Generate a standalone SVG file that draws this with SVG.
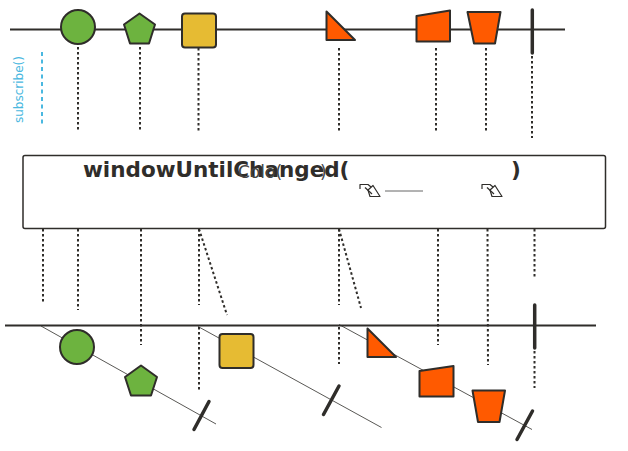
<svg xmlns="http://www.w3.org/2000/svg" width="628" height="451" viewBox="0 0 628 451">
<style>
.tl{stroke:#2f2d2a;stroke-width:2;fill:none}
.dot{stroke:#2f2d2a;stroke-width:2;stroke-dasharray:2.5 2.5;fill:none}
.win{stroke:#2f2d2a;stroke-width:0.8;fill:none}
.end{stroke:#2f2d2a;stroke-width:3.5;stroke-linecap:round;fill:none}
.g{fill:#6db33f;stroke:#2f2d2a;stroke-width:2;stroke-linejoin:round}
.y{fill:#e6bb33;stroke:#2f2d2a;stroke-width:2;stroke-linejoin:round}
.o{fill:#ff5a00;stroke:#2f2d2a;stroke-width:2;stroke-linejoin:round}
.ic{fill:none;stroke:#2f2d2a;stroke-width:1.2;stroke-linejoin:round}
</style>
<rect width="628" height="451" fill="#fff"/>
<g id="connectors">
<line class="tl" x1="10" y1="29.5" x2="565" y2="29.5"/>
<line class="dot" x1="78" y1="47" x2="78" y2="131"/>
<line class="dot" x1="140" y1="47" x2="140" y2="131"/>
<line class="dot" x1="198.5" y1="48" x2="198.5" y2="131"/>
<line class="dot" x1="339" y1="48" x2="339" y2="131"/>
<line class="dot" x1="436" y1="48" x2="436" y2="131"/>
<line class="dot" x1="486" y1="48" x2="486" y2="131"/>
<line class="dot" x1="532" y1="56" x2="532" y2="138"/>
<line x1="42" y1="52" x2="42" y2="127" stroke="#4ab8e0" stroke-width="2" stroke-dasharray="4 3.5"/>
<line class="dot" x1="43" y1="229" x2="43" y2="304"/>
<line class="dot" x1="78" y1="229" x2="78" y2="310"/>
<line class="dot" x1="141" y1="229" x2="141" y2="345"/>
<line class="dot" x1="199" y1="229" x2="199" y2="305"/>
<line class="dot" x1="199" y1="229" x2="227" y2="315"/>
<line class="dot" x1="199" y1="327" x2="199" y2="392"/>
<line class="dot" x1="339" y1="229" x2="339" y2="305"/>
<line class="dot" x1="339" y1="229" x2="361" y2="308"/>
<line class="dot" x1="339" y1="327" x2="339" y2="364"/>
<line class="dot" x1="438" y1="229" x2="438" y2="345"/>
<line class="dot" x1="487.5" y1="229" x2="488" y2="365"/>
<line class="dot" x1="534.5" y1="229" x2="534.5" y2="278"/>
<line class="dot" x1="534.5" y1="351" x2="534.5" y2="388"/>
<line class="tl" x1="5" y1="325.5" x2="596" y2="325.5"/>
<line class="win" x1="41" y1="326" x2="216" y2="424"/>
<line class="win" x1="198" y1="326.5" x2="381.5" y2="427.5"/>
<line class="win" x1="339" y1="324.5" x2="532" y2="429.5"/>
</g>
<g id="src-circle"><circle class="g" cx="78" cy="27" r="17"/></g>
<g id="src-pentagon"><polygon class="g" points="139.5,13.5 155,24.5 149,43.5 130,43.5 124,24.5"/></g>
<g id="src-square"><rect class="y" x="182" y="13.5" width="34" height="34" rx="3"/></g>
<g id="src-triangle"><polygon class="o" points="326.5,11.5 355,40 326.5,40"/></g>
<g id="src-quad"><polygon class="o" points="416.5,16 450,10.5 450,41.5 416.5,41.5"/></g>
<g id="src-trap"><polygon class="o" points="467.5,12 500.5,12 495,43.5 474,43.5"/></g>
<g id="src-end"><line class="end" x1="532.3" y1="10" x2="532.3" y2="53" stroke-width="4"/></g>
<g id="subscribe"><text transform="translate(22.5,123) rotate(-90)" font-family="DejaVu Sans, sans-serif" font-size="12" fill="#4ab8e0">subscribe()</text></g>
<g id="operator">
<rect x="23" y="155.5" width="582.5" height="73" rx="2" fill="#fff" stroke="#2f2d2a" stroke-width="1.5"/>
<text x="83" y="176.5" font-family="DejaVu Sans, sans-serif" font-weight="bold" font-size="21.5" fill="#2f2d2a">windowUntilChanged(</text>
<text x="511" y="176.5" font-family="DejaVu Sans, sans-serif" font-weight="bold" font-size="21.5" fill="#2f2d2a">)</text>
<text x="238" y="178" font-family="DejaVu Sans, sans-serif" font-size="17" fill="#444">Colo(</text>
<text x="320" y="178" font-family="DejaVu Sans, sans-serif" font-size="17" fill="#444">)</text>
<g class="ic">
<path d="M360,189 L360,184.5 L368,184.5 L371,187"/>
<path d="M368,190 L373,185.5 L380,196.5 L370,196.5 Z"/>
<path d="M365,187.5 L372,194"/>
</g>
<line x1="385" y1="191" x2="423" y2="191" stroke="#666" stroke-width="1"/>
<g class="ic">
<path d="M482,189 L482,184.5 L490,184.5 L493,187"/>
<path d="M490,190 L495,185.5 L502,196.5 L492,196.5 Z"/>
<path d="M487,187.5 L494,194"/>
</g>
</g>
<g id="out-circle"><circle class="g" cx="77" cy="347" r="17"/></g>
<g id="out-pentagon"><polygon class="g" points="141,365.5 157,377 151,395.5 131,395.5 125,377"/></g>
<g id="out-end1"><line class="end" x1="194" y1="429.5" x2="209" y2="401.5"/></g>
<g id="out-square"><rect class="y" x="219.5" y="334" width="34" height="34" rx="3"/></g>
<g id="out-end2"><line class="end" x1="323.5" y1="414.5" x2="339" y2="386"/></g>
<g id="out-triangle"><polygon class="o" points="367.5,328.5 396,357 367.5,357"/></g>
<g id="out-quad"><polygon class="o" points="419.5,371 453.5,366 453.5,396.5 419.5,396.5"/></g>
<g id="out-trap"><polygon class="o" points="472.5,390.5 505,390.5 499.5,422 478,422"/></g>
<g id="out-end3"><line class="end" x1="517" y1="439.5" x2="532.5" y2="411"/></g>
<g id="out-end"><line class="end" x1="534.7" y1="305" x2="534.7" y2="348" stroke-width="4"/></g>
</svg>
